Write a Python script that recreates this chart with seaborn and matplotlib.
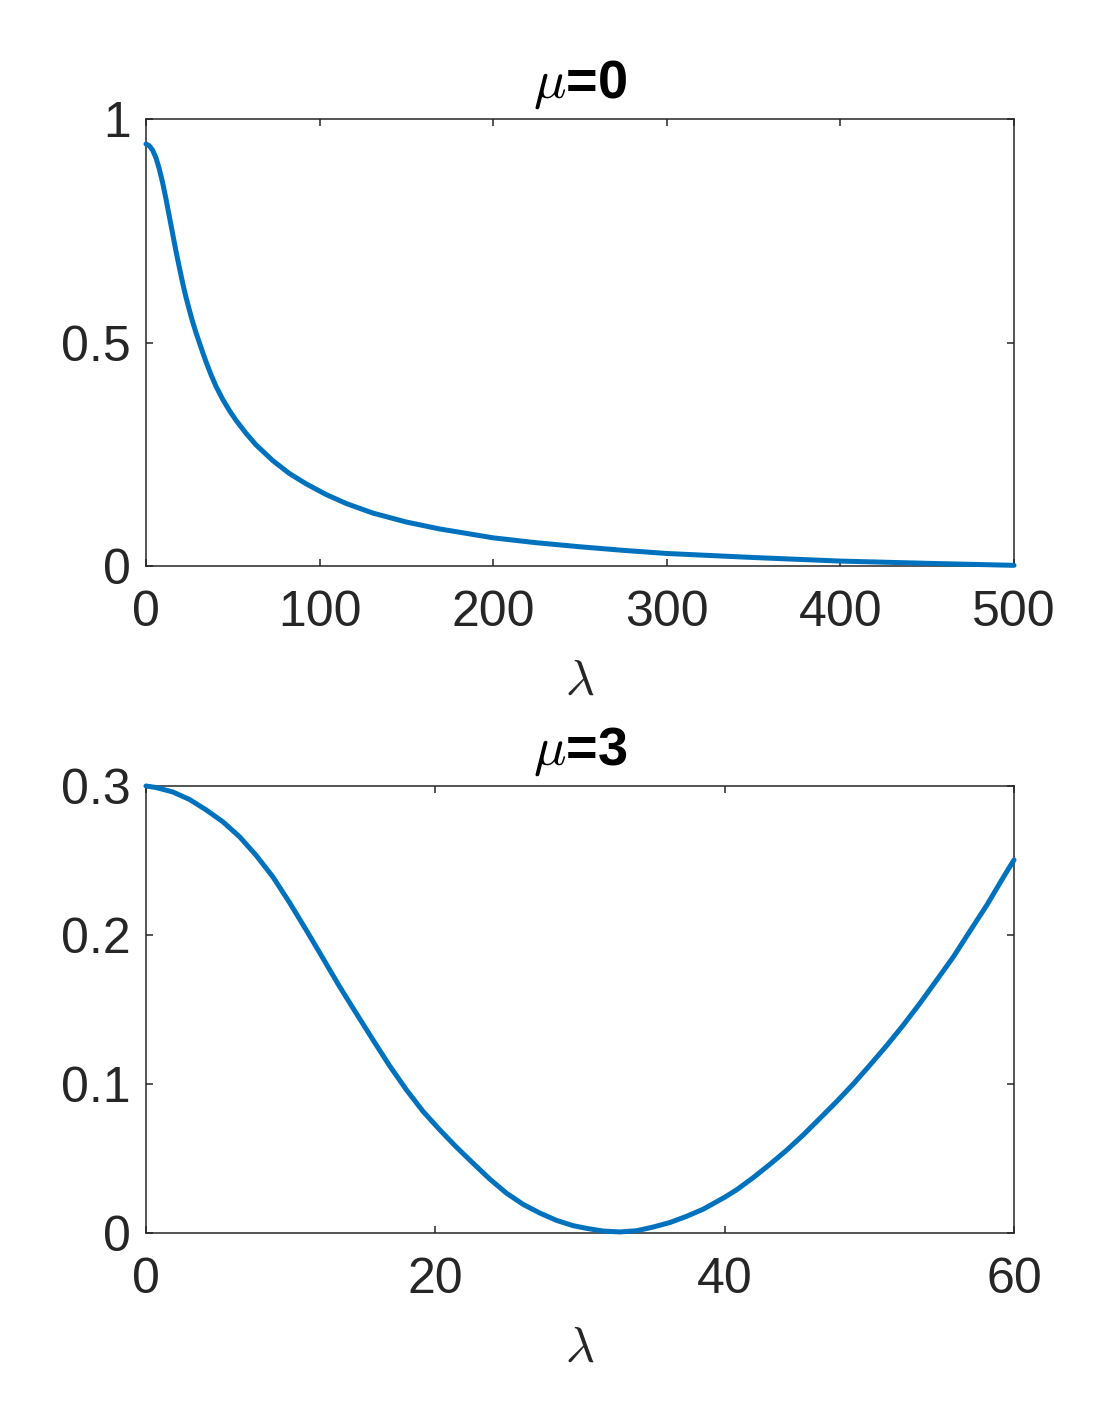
import numpy as np
import pandas as pd
import matplotlib
matplotlib.use("Agg")
import matplotlib.pyplot as plt
import seaborn as sns

# Values
lam_mu0 = [0, 1.92, 3.84, 5.76, 7.68, 9.60, 11.52, 13.44, 15.36, 17.28, 19.2,
           21.12, 23.04, 24.96, 26.88, 28.8, 30.72, 32.64, 34.56, 37.44, 40.32,
           44.16, 48.0, 51.84, 57.6, 63.36, 72.96, 82.56, 92.16, 103.7, 115.2,
           130.6, 149.8, 169, 200, 225, 250, 275, 300, 350, 400, 450, 500]
val_mu0 = [0.944, 0.940, 0.930, 0.913, 0.888, 0.857, 0.821, 0.782, 0.743, 0.704,
           0.668, 0.633, 0.601, 0.573, 0.546, 0.522, 0.500, 0.478, 0.457, 0.428,
           0.402, 0.373, 0.348, 0.326, 0.297, 0.271, 0.236, 0.207, 0.184, 0.160,
           0.140, 0.1185, 0.0985, 0.083, 0.063, 0.052, 0.043, 0.035, 0.028, 0.019,
           0.011, 0.006, 0.0015]

lam_mu3 = [0, 0.69, 1.85, 3.0, 4.15, 5.31, 6.46, 7.61, 8.77, 9.92, 11.07, 12.23,
           13.38, 14.53, 15.69, 16.84, 18.0, 19.15, 20.3, 21.45, 22.6, 23.76,
           24.91, 26.07, 27.22, 28.37, 29.53, 30.45, 31.6, 32.76, 33.9, 35.06,
           36.2, 37.37, 38.52, 40.0, 40.83, 41.98, 43.14, 44.29, 45.44, 46.6,
           47.75, 48.9, 50.06, 51.2, 52.36, 53.5, 54.67, 55.82, 56.98, 58.13,
           59.28, 60.0]
val_mu3 = [0.300, 0.299, 0.296, 0.291, 0.284, 0.276, 0.266, 0.2535, 0.239, 0.2218,
           0.2034, 0.1844, 0.1654, 0.1475, 0.1296, 0.1122, 0.0961, 0.0816, 0.0693,
           0.0577, 0.0469, 0.0362, 0.0268, 0.0192, 0.0134, 0.0085, 0.0049, 0.0031,
           0.0013, 0.0007, 0.0015, 0.0040, 0.0070, 0.0112, 0.0160, 0.0240, 0.0290,
           0.0372, 0.0462, 0.0556, 0.0659, 0.0771, 0.0883, 0.1001, 0.1129, 0.1258,
           0.1397, 0.1542, 0.1699, 0.1855, 0.203, 0.2202, 0.239, 0.2504]

xticks_mu0 = [0, 100, 200, 300, 400, 500]
yticks_mu0 = [0, 0.5, 1]
ytick_labels_mu0 = ["0", "0.5", "1"]
xticks_mu3 = [0, 20, 40, 60]
yticks_mu3 = [0, 0.1, 0.2, 0.3]
ytick_labels_mu3 = ["0", "0.1", "0.2", "0.3"]

titles = [r"$\mu$=0", r"$\mu$=3"]

sns.set_style("ticks")
plt.rcParams["font.family"] = ["Liberation Sans", "DejaVu Sans"]
plt.rcParams["mathtext.fontset"] = "cm"

line_color = "#0072BD"
text_color = "#262626"

fig = plt.figure(figsize=(11.2, 14.08), dpi=100)
ax1 = fig.add_axes([0.13036, 0.59801, 0.775, 0.31747])
ax2 = fig.add_axes([0.13036, 0.12429, 0.775, 0.31747])

panels = [
    (ax1, pd.DataFrame({"lam": lam_mu0, "val": val_mu0}), (0, 500), (0, 1),
     xticks_mu0, yticks_mu0, ytick_labels_mu0, titles[0]),
    (ax2, pd.DataFrame({"lam": lam_mu3, "val": val_mu3}), (0, 60), (0, 0.3),
     xticks_mu3, yticks_mu3, ytick_labels_mu3, titles[1]),
]

for ax, df, xl, yl, xt, yt, ytl, title in panels:
    sns.lineplot(data=df, x="lam", y="val", ax=ax, color=line_color,
                 linewidth=3.6, clip_on=False, zorder=3)
    ax.set_xlim(*xl)
    ax.set_ylim(*yl)
    ax.set_xticks(xt)
    ax.set_xticklabels([str(v) for v in xt])
    ax.set_yticks(yt)
    ax.set_yticklabels(ytl)
    ax.tick_params(direction="in", length=5, width=1.1, top=True, right=True,
                   labelsize=36, colors=text_color, pad=11)
    ax.tick_params(axis="x", pad=17)
    for side in ["top", "bottom", "left", "right"]:
        ax.spines[side].set_visible(True)
        ax.spines[side].set_linewidth(1.1)
        ax.spines[side].set_color(text_color)
    ax.set_xlabel(r"$\lambda$", fontsize=36, color=text_color, labelpad=16)
    ax.set_ylabel("")
    ax.set_title(title, fontsize=39, fontweight="bold", color="black", pad=15)

fig.savefig("out.png", dpi=100)
